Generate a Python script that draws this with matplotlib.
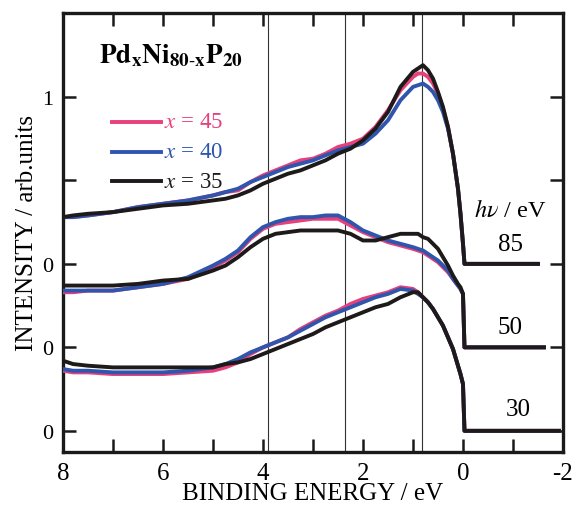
import matplotlib
matplotlib.use("Agg")
import matplotlib.pyplot as plt
import numpy as np

plt.rcParams["font.family"] = ["Liberation Serif", "DejaVu Serif"]
plt.rcParams["mathtext.fontset"] = "stix"

# Binding energy grid (eV) shared by all spectra, down to the Fermi edge
energy = [8.0, 7.8, 7.5, 7.0, 6.5, 6.0, 5.5, 5.0, 4.75, 4.5, 4.25, 4.0, 3.75, 3.5,
          3.25, 3.0, 2.75, 2.5, 2.25, 2.0, 1.75, 1.5, 1.25, 1.0, 0.9, 0.8, 0.7,
          0.6, 0.5, 0.4, 0.3, 0.2, 0.1, 0.05, 0.0, -0.03]

# Photon energies, vertical offsets and where each scan ends (eV)
photon_energies = ["85", "50", "30"]
offsets = [1.0, 0.5, 0.0]
scan_end = [-1.5, -1.62, -1.92]

# hv = 85 eV
i85_x45 = [0.28, 0.28, 0.29, 0.31, 0.34, 0.36, 0.38, 0.41, 0.43, 0.44, 0.49, 0.53,
           0.56, 0.59, 0.62, 0.63, 0.66, 0.70, 0.72, 0.75, 0.82, 0.92, 1.04, 1.12,
           1.14, 1.14, 1.12, 1.08, 1.02, 0.93, 0.82, 0.66, 0.45, 0.30, 0.12, 0.0]
i85_x40 = [0.28, 0.28, 0.29, 0.31, 0.34, 0.36, 0.38, 0.41, 0.43, 0.45, 0.49, 0.52,
           0.55, 0.58, 0.60, 0.62, 0.65, 0.68, 0.70, 0.72, 0.78, 0.86, 0.98, 1.06,
           1.07, 1.08, 1.06, 1.03, 0.98, 0.91, 0.81, 0.66, 0.45, 0.30, 0.12, 0.0]
i85_x35 = [0.28, 0.29, 0.30, 0.31, 0.33, 0.35, 0.36, 0.38, 0.39, 0.41, 0.44, 0.48,
           0.51, 0.54, 0.56, 0.59, 0.62, 0.66, 0.69, 0.74, 0.81, 0.91, 1.06, 1.15,
           1.17, 1.19, 1.16, 1.11, 1.03, 0.94, 0.82, 0.66, 0.45, 0.30, 0.12, 0.0]

# hv = 50 eV
i50_x45 = [0.33, 0.33, 0.34, 0.34, 0.36, 0.38, 0.41, 0.48, 0.52, 0.57, 0.65, 0.71,
           0.74, 0.75, 0.76, 0.77, 0.77, 0.77, 0.73, 0.69, 0.66, 0.63, 0.61, 0.59,
           0.58, 0.57, 0.55, 0.53, 0.51, 0.48, 0.45, 0.41, 0.37, 0.35, 0.32, 0.0]
i50_x40 = [0.34, 0.34, 0.34, 0.34, 0.36, 0.38, 0.42, 0.49, 0.53, 0.58, 0.66, 0.72,
           0.75, 0.77, 0.78, 0.78, 0.79, 0.79, 0.75, 0.70, 0.67, 0.64, 0.62, 0.60,
           0.59, 0.58, 0.56, 0.54, 0.52, 0.49, 0.46, 0.41, 0.37, 0.35, 0.32, 0.0]
i50_x35 = [0.37, 0.37, 0.37, 0.37, 0.38, 0.40, 0.41, 0.46, 0.49, 0.54, 0.60, 0.65,
           0.68, 0.69, 0.70, 0.70, 0.70, 0.70, 0.68, 0.64, 0.64, 0.66, 0.68, 0.68,
           0.68, 0.66, 0.65, 0.62, 0.59, 0.54, 0.49, 0.43, 0.38, 0.36, 0.32, 0.0]

# hv = 30 eV
i30_x45 = [0.36, 0.35, 0.35, 0.34, 0.34, 0.34, 0.35, 0.36, 0.38, 0.41, 0.46, 0.50,
           0.53, 0.56, 0.61, 0.65, 0.69, 0.72, 0.76, 0.79, 0.81, 0.83, 0.86, 0.85,
           0.83, 0.80, 0.77, 0.73, 0.68, 0.63, 0.56, 0.49, 0.39, 0.34, 0.28, 0.0]
i30_x40 = [0.37, 0.36, 0.36, 0.35, 0.35, 0.35, 0.36, 0.38, 0.40, 0.43, 0.47, 0.50,
           0.53, 0.56, 0.60, 0.64, 0.68, 0.71, 0.74, 0.77, 0.80, 0.82, 0.85, 0.84,
           0.82, 0.80, 0.77, 0.73, 0.68, 0.63, 0.56, 0.49, 0.39, 0.34, 0.28, 0.0]
i30_x35 = [0.42, 0.40, 0.39, 0.38, 0.38, 0.38, 0.38, 0.38, 0.40, 0.41, 0.43, 0.46,
           0.49, 0.52, 0.55, 0.58, 0.62, 0.65, 0.68, 0.71, 0.74, 0.76, 0.80, 0.83,
           0.83, 0.80, 0.77, 0.73, 0.68, 0.63, 0.56, 0.49, 0.39, 0.34, 0.28, 0.0]

compositions = ["45", "40", "35"]
colors = ["#e8407c", "#2f55ad", "#1e1a1a"]
spectra = [
    [i85_x45, i85_x40, i85_x35],
    [i50_x45, i50_x40, i50_x35],
    [i30_x45, i30_x40, i30_x35],
]

# Reference energies marked by vertical lines
marker_energies = [3.9, 2.35, 0.82]

fig = plt.figure(figsize=(5.73, 5.06), dpi=100)
ax = fig.add_axes([0.110, 0.105, 0.8725, 0.8675])

for group, off, end in zip(spectra, offsets, scan_end):
    for vals, col in zip(group, colors):
        e = list(energy) + [end]
        v = list(vals) + [0.0]
        ax.plot(e, np.array(v) + off, color=col, lw=2.8, solid_joinstyle="round",
                zorder=3)

for em in marker_energies:
    ax.axvline(em, color="#333333", lw=0.8, zorder=2)

ax.set_xlim(8, -2)
ax.set_ylim(-0.126, 2.503)

ax.set_xticks([8, 6, 4, 2, 0, -2])
ax.set_xticklabels(["8", "6", "4", "2", "0", "-2"])
ax.set_xticks(np.arange(-2, 8.01, 1), minor=True)
ax.set_yticks([0, 0.5, 1.0, 1.5, 2.0])
ax.set_yticklabels(["0", "0", "0", "", "1"])

ax.tick_params(axis="both", which="both", direction="in", top=True, right=True,
               width=1.8, color="#1a1a1a")
ax.tick_params(axis="both", which="major", length=9.5)
ax.tick_params(axis="x", which="minor", length=9.5)
ax.tick_params(axis="x", labelsize=18, pad=7)
ax.tick_params(axis="y", labelsize=16, pad=7)
for s in ax.spines.values():
    s.set_linewidth(2.4)
    s.set_color("#1a1a1a")

ax.set_xlabel("BINDING ENERGY / eV", fontsize=18, labelpad=-1)
ax.set_ylabel("INTENSITY / arb.units", fontsize=18, labelpad=3)

# Composition legend
ax.text(0.072, 0.905, r"$\mathbf{Pd}_{\mathbf{x}}\mathbf{Ni}_{\mathbf{80\text{-}x}}\mathbf{P}_{\mathbf{20}}$",
        transform=ax.transAxes, fontsize=19.5, ha="left", va="center")
leg_y = [0.752, 0.684, 0.616]
for comp, col, yy in zip(compositions, colors, leg_y):
    ax.plot([0.098, 0.196], [yy, yy], transform=ax.transAxes, color=col, lw=2.8)
    ax.text(0.202, yy, r"$x$ = " + comp, transform=ax.transAxes, color=col,
            fontsize=16.5, ha="left", va="center")

# Photon energy labels
ax.text(-0.95, 1.32, r"$h\nu$ / eV", fontsize=17.5, ha="center", va="center")
for lab, xx, yy in zip(photon_energies, [-0.95, -0.95, -1.1], [1.12, 0.62, 0.13]):
    ax.text(xx, yy, lab, fontsize=18, ha="center", va="center")

fig.savefig("out.png", dpi=100)
